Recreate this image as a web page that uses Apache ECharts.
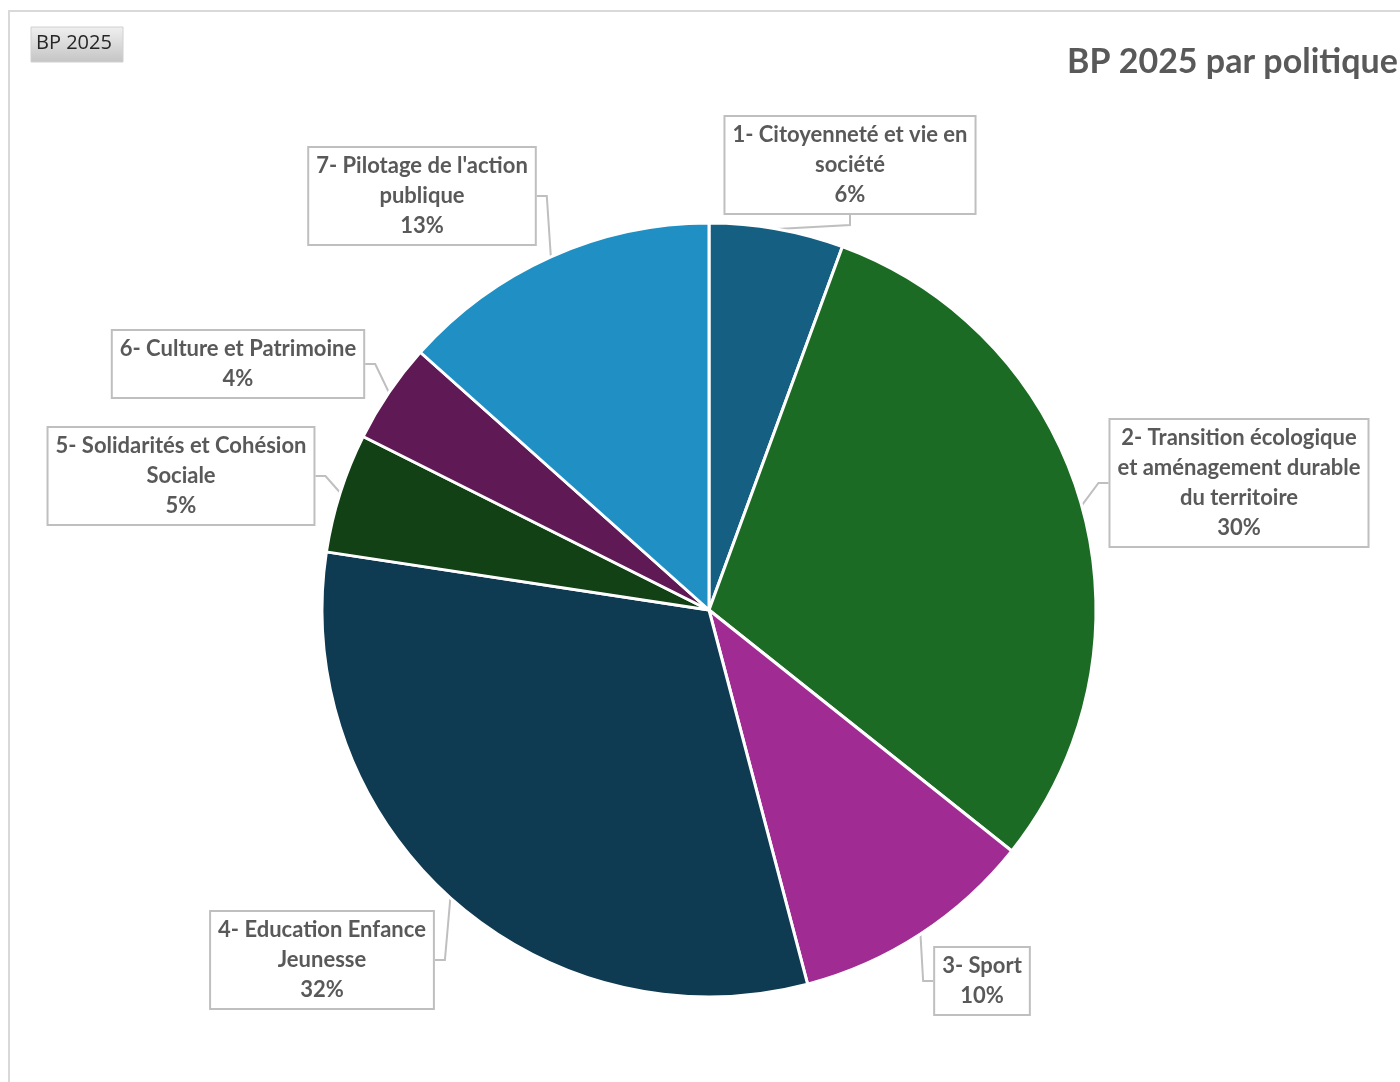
<!DOCTYPE html>
<html>
<head>
<meta charset="utf-8">
<script src="https://cdn.jsdelivr.net/npm/echarts@6/dist/echarts.min.js"></script>
<style>
html,body{margin:0;padding:0;background:#fff;}
#chart{width:1400px;height:1082px;}
</style>
</head>
<body>
<div id="chart"></div>
<script>
const categories = [
  "1- Citoyenneté et vie en\nsociété",
  "2- Transition écologique\net aménagement durable\ndu territoire",
  "3- Sport",
  "4- Education Enfance\nJeunesse",
  "5- Solidarités et Cohésion\nSociale",
  "6- Culture et Patrimoine",
  "7- Pilotage de l'action\npublique"
];
const values = [5.6, 30.1, 10.2, 31.5, 5.0, 4.2, 13.4];
const colors = ["#156082", "#1b6b24", "#a02b93", "#0e3a52", "#124116", "#5f1954", "#2090c4"];
const labelCenters = [[850,165],[1239,483],[982,981],[322,960],[181,476],[238,364],[422,196]];

const chart = echarts.init(document.getElementById('chart'), null, {renderer:'canvas'});
const option = {
  animation: false,
  backgroundColor: '#fff',
  graphic: [
    {type:'rect', shape:{x:9,y:11,width:1600,height:1300}, style:{fill:'none', stroke:'#d9d9d9', lineWidth:2}, z:-10},
    {type:'rect', shape:{x:31,y:27,width:92,height:35}, style:{fill:new echarts.graphic.LinearGradient(0,0,0,1,[{offset:0,color:'#f0f0f0'},{offset:1,color:'#c4c4c4'}]), stroke:'#d0d0d0', lineWidth:1}},
    {type:'text', left:36, top:33, style:{text:'BP 2025', font:'20px "Open Sans", sans-serif', fill:'#262626'}}
  ],
  title: {
    text: 'BP 2025 par politique',
    left: 1062, top: 40,
    textStyle: {fontFamily:'Lato', fontWeight:'bold', fontSize:34, color:'#595959'}
  },
  series: [{
    type: 'pie',
    center: [709, 610],
    radius: 387,
    startAngle: 90,
    clockwise: true,
    avoidLabelOverlap: false,
    itemStyle: {borderColor:'#ffffff', borderWidth:3},
    data: categories.map((c,i)=>({name:c, value:values[i], itemStyle:{color:colors[i]}})),
    label: {
      show: true,
      position: 'outside',
      formatter: p => p.name + '\n' + Math.round(p.percent) + '%',
      fontFamily: 'Lato',
      fontWeight: 'bold',
      fontSize: 22,
      lineHeight: 30,
      color: '#595959',
      align: 'center',
      backgroundColor: '#ffffff',
      borderColor: '#bfbfbf',
      borderWidth: 2,
      padding: [3, 7, 3, 7]
    },
    labelLine: {show:true, length:20, length2:10, lineStyle:{color:'#bfbfbf', width:2}},
    labelLayout: function (params) {
      const c = labelCenters[params.dataIndex];
      return {x: c[0], y: c[1], align: 'center', verticalAlign: 'middle'};
    },
    emphasis: {disabled:true}
  }]
};
chart.setOption(option);
</script>
</body>
</html>
